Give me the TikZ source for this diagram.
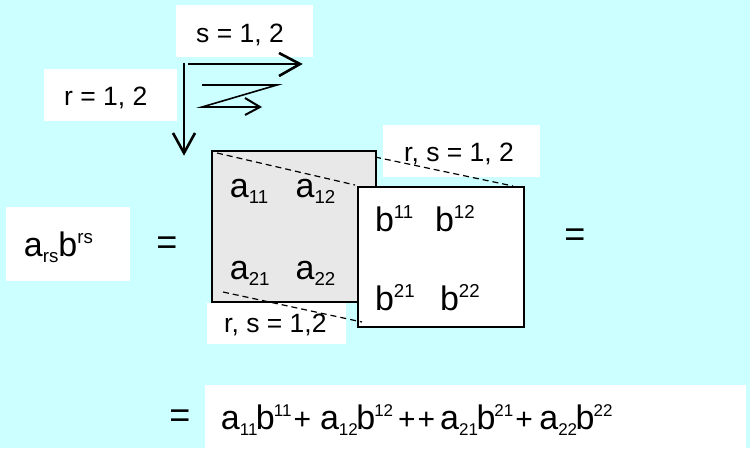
\documentclass[tikz,border=0pt]{standalone}
\usepackage{fontspec}
\usepackage{graphicx}
\setmainfont{Liberation Sans}
\definecolor{bgcyan}{RGB}{204,255,255}
\definecolor{boxgray}{RGB}{232,232,232}
\newcommand{\lo}[1]{\raisebox{-0.19em}{\scalebox{0.55}{#1}}}
\newcommand{\hi}[1]{\raisebox{0.36em}{\scalebox{0.55}{#1}}}
\newcommand{\slo}[1]{\raisebox{-0.2em}{\scalebox{0.5}{#1}}}
\newcommand{\shi}[1]{\raisebox{0.38em}{\scalebox{0.5}{#1}}}
\newcommand{\sumterm}[4]{a\slo{#1#2}\kern-1.5pt b\kern-1pt\shi{#3#4}}
\newcommand{\pf}{\fontsize{30}{30}\selectfont}
\tikzset{
  lbl/.style={anchor=base west,inner sep=0pt,font=\fontsize{26.5}{26.5}\selectfont},
  ent/.style={anchor=base west,inner sep=0pt,font=\fontsize{34}{34}\selectfont},
  eqs/.style={anchor=base,inner sep=0pt,font=\fontsize{36}{36}\selectfont},
  whitebox/.style={fill=white,draw=none},
  frame/.style={draw=black,line width=1.5pt},
  dline/.style={dashed,dash pattern=on 6pt off 4pt,line width=1.2pt},
  thinarrow/.style={line width=1.6pt},
  headline/.style={line width=2.6pt,line join=miter},
}
\begin{document}
\begin{tikzpicture}[x=1pt,y=-1pt]
\useasboundingbox (0,0) rectangle (750,448);
\fill[bgcyan] (0,0) rectangle (750,448);

% label boxes
\fill[whitebox] (176,5) rectangle (313,57);
\node[lbl] (slab) at (196,42) {s = 1, 2};
\fill[whitebox] (44,69) rectangle (177,121);
\node[lbl] (rlab) at (64,105) {r = 1, 2};

% arrows
\coordinate (vtop) at (184,63);
\coordinate (vbot) at (184,152);
\draw[thinarrow] (vtop) -- (vbot);
\draw[headline] (173,133) -- (184,153) -- (195,133);
\coordinate (hl) at (188,64);
\coordinate (hr) at (298,64);
\draw[thinarrow] (hl) -- (hr);
\draw[headline] (279,53) -- (300,64) -- (279,76);
\draw[thinarrow,line join=miter] (202,85) -- (277,85) -- (202,107) -- (258,107);
\draw[line width=2pt] (245,98) -- (260,107) -- (245,115);

% A matrix
\draw[frame,fill=boxgray] (212,151) rectangle (376,302);
\node[ent] (a11) at (229.7,197) {a\lo{11}};
\node[ent] (a12) at (295.4,197) {a\lo{12}};
\node[ent] (a21) at (229.7,279) {a\lo{21}};
\node[ent] (a22) at (295.4,279) {a\lo{22}};

% B matrix
\draw[frame,fill=white] (358,187) rectangle (524,327);
\node[ent] (b11) at (374.8,231) {b\hi{11}};
\node[ent] (b12) at (434.8,231) {b\hi{12}};
\node[ent] (b21) at (374.8,310) {b\hi{21}};
\node[ent] (b22) at (439.8,310) {b\hi{22}};

% r,s labels
\fill[whitebox] (383,125) rectangle (540,177);
\node[lbl] (rstop) at (404,161) {r, s = 1, 2};
\fill[whitebox] (207,303) rectangle (346,344);
\node[lbl] (rsbot) at (224,332) {r, s = 1,2};

% dashed projection lines
\draw[dline] (217,153) -- (355,185);
\draw[dline] (375,157) -- (513,186);
\draw[dline] (223,292) -- (362,322);

% left expression
\fill[whitebox] (6,207) rectangle (130,281);
\node[ent] (arsbrs) at (23.7,256) {a\lo{rs}b\hi{rs}};
\node[eqs] (eq1) at (167,254) {=};
\node[eqs] (eq2) at (575,246) {=};

% bottom expression
\node[eqs] (eq3) at (180,427) {=};
\fill[whitebox] (205,385) rectangle (746,448);
\node[ent] (sum) at (220.7,429) {\sumterm1111\hspace{2pt}{\pf +}\hspace{9pt}\sumterm1212\hspace{5pt}{\pf +}\hspace{2pt}{\pf +}\hspace{5pt}\sumterm2121\hspace{2pt}{\pf +}\hspace{6.5pt}\sumterm2222};
\end{tikzpicture}
\end{document}
